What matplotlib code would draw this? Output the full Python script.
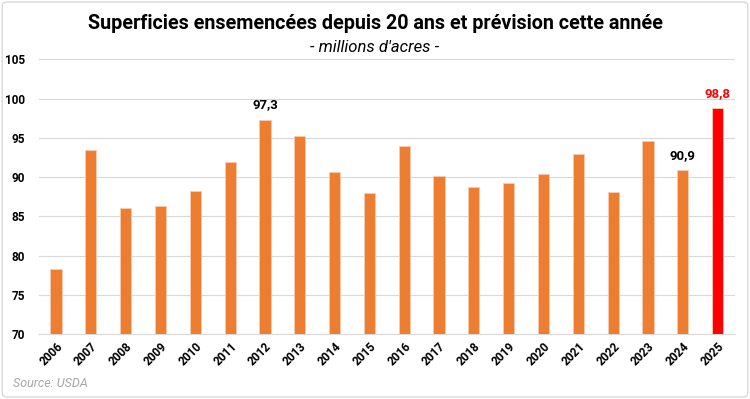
import matplotlib
matplotlib.use("Agg")
import matplotlib.pyplot as plt
from matplotlib.patches import FancyBboxPatch
from matplotlib import font_manager

years = ["2006", "2007", "2008", "2009", "2010", "2011", "2012", "2013", "2014", "2015",
         "2016", "2017", "2018", "2019", "2020", "2021", "2022", "2023", "2024", "2025"]
values = [78.3, 93.5, 86.0, 86.3, 88.2, 91.9, 97.3, 95.3, 90.6, 88.0,
          94.0, 90.2, 88.8, 89.3, 90.4, 92.9, 88.1, 94.6, 90.9, 98.8]
labelled = {"2012": "97,3", "2024": "90,9", "2025": "98,8"}
yticks = [70, 75, 80, 85, 90, 95, 100, 105]

names = {f.name for f in font_manager.fontManager.ttflist}
cond = "Liberation Sans Narrow" if "Liberation Sans Narrow" in names else "Roboto"
plt.rcParams['font.family'] = [cond, 'DejaVu Sans']

fig = plt.figure(figsize=(7.5, 3.99), dpi=100)
ax = fig.add_axes([0.0515, 0.163, 0.9285, 0.688])

orange = "#ED7D31"
red = "#FF0000"
colors = [red if y == "2025" else orange for y in years]
x = list(range(len(years)))
ax.bar(x, values, width=0.32, color=colors, edgecolor="#F8CBAD", linewidth=0.6, zorder=3)

ax.set_ylim(70, 105)
ax.set_xlim(-0.5, len(years) - 0.5)
ax.set_yticks(yticks)
ax.set_yticklabels([str(t) for t in yticks], fontsize=8.5, fontweight="bold")
ax.set_xticks(x)
ax.set_xticklabels(years, rotation=45, ha="right", rotation_mode="anchor",
                   fontsize=8.5, fontweight="bold")
ax.tick_params(axis="both", length=0, pad=4)
ax.tick_params(axis="y", pad=10)
ax.grid(axis="y", color="#D9D9D9", linewidth=0.8, zorder=0)
for s in ["top", "right", "left"]:
    ax.spines[s].set_visible(False)
ax.spines["bottom"].set_color("#D9D9D9")

for i, (y, v) in enumerate(zip(years, values)):
    if y in labelled:
        ax.annotate(labelled[y], (i, v), xytext=(0, 6), textcoords="offset points",
                    ha="center", va="bottom", fontsize=9.5, fontweight="bold",
                    color=red if y == "2025" else "black")

fig.text(0.5, 0.942, "Superficies ensemencées depuis 20 ans et prévision cette année",
         ha="center", va="center", fontsize=14.2, fontweight="bold")
fig.text(0.5, 0.882, "- millions d'acres -", ha="center", va="center",
         fontsize=12, style="italic")
fig.text(0.018, 0.04, "Source: USDA", ha="left", va="center", fontsize=9,
         style="italic", color="#A6A6A6")

fig.patches.append(FancyBboxPatch((0.003, 0.005), 0.994, 0.99, boxstyle="round,pad=0,rounding_size=0.008",
                                  transform=fig.transFigure, fill=False,
                                  edgecolor="#D9D9D9", linewidth=1))

fig.savefig("out.png", dpi=100, facecolor="white")
